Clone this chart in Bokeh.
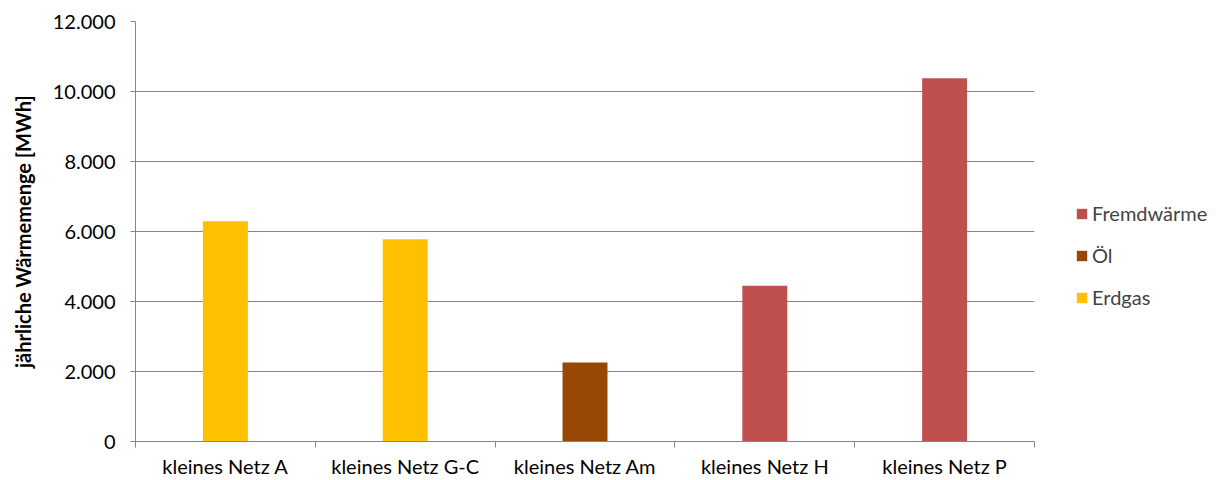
from bokeh.plotting import figure
from bokeh.layouts import row
from bokeh.models import (Range1d, LinearAxis, FixedTicker, Legend, LegendItem, ColumnDataSource)
from bokeh.embed import file_html
from bokeh.resources import INLINE

categories = ["kleines Netz A", "kleines Netz G-C", "kleines Netz Am", "kleines Netz H", "kleines Netz P"]
erdgas = [6290, 5780, 0, 0, 0]
oel = [0, 0, 2260, 0, 0]
fremdwaerme = [0, 0, 0, 4450, 10380]
series_names = ["Erdgas", "Öl", "Fremdwärme"]
series_colors = ["#FFC000", "#974706", "#C0504D"]
y_ticks = [0, 2000, 4000, 6000, 8000, 10000, 12000]
y_tick_labels = ["0", "2.000", "4.000", "6.000", "8.000", "10.000", "12.000"]
y_title = "jährliche Wärmemenge [MWh]"

FONT = "Lato"
GRID = "#868686"

n = len(categories)
xpos = [i + 1 for i in range(n)]
source = ColumnDataSource({"x": xpos, "Erdgas": erdgas, "Öl": oel, "Fremdwärme": fremdwaerme})

p = figure(x_range=Range1d(0.5, n + 0.5), y_range=Range1d(0, 12000),
           width=1040, height=480, output_backend="svg", toolbar_location=None,
           x_axis_location=None, y_axis_location="left",
           min_border_left=135, min_border_top=21, min_border_right=6, min_border_bottom=38)
p.outline_line_color = None
p.background_fill_color = "white"
p.border_fill_color = "white"

p.vbar_stack(series_names, x="x", width=0.25, source=source,
             color=series_colors, line_color=None)

# y axis
yax = p.yaxis[0]
yax.ticker = FixedTicker(ticks=y_ticks)
yax.major_label_overrides = {t: l for t, l in zip(y_ticks, y_tick_labels)}
yax.minor_tick_line_color = None
yax.major_tick_in = 0
yax.major_tick_out = 5
yax.major_tick_line_color = GRID
yax.axis_line_color = GRID
yax.major_label_text_font = FONT
yax.major_label_text_font_size = "20px"
yax.major_label_text_color = "black"
yax.major_label_standoff = 15
yax.axis_label = y_title
yax.axis_label_text_font = FONT
yax.axis_label_text_font_size = "20px"
yax.axis_label_text_font_style = "bold"
yax.axis_label_text_color = "black"
yax.axis_label_standoff = 15

p.ygrid.grid_line_color = GRID
p.ygrid.ticker = FixedTicker(ticks=y_ticks)
p.xgrid.grid_line_color = None

# x axis: labels at category centers, tick marks at category boundaries
xax = LinearAxis(ticker=FixedTicker(ticks=xpos, minor_ticks=[x - 0.5 for x in xpos] + [n + 0.5]),
                 major_label_overrides={x: c for x, c in zip(xpos, categories)},
                 axis_line_color=GRID, major_tick_line_color=None,
                 major_tick_in=0, major_tick_out=0,
                 minor_tick_line_color=GRID, minor_tick_in=0, minor_tick_out=6,
                 major_label_text_font=FONT, major_label_text_font_size="20px",
                 major_label_text_color="black", major_label_standoff=6)
p.add_layout(xax, "below")

# legend panel (separate figure to the right of the plot area)
lg = figure(x_range=Range1d(-10, -9), y_range=Range1d(-2, -1), width=176, height=480,
            output_backend="svg", toolbar_location=None,
            x_axis_location=None, y_axis_location=None,
            min_border=0)
lg.outline_line_color = None
lg.grid.grid_line_color = None
lg_renderers = lg.vbar_stack(series_names, x="x", width=0.25, source=source,
                             color=series_colors, line_color=None)
legend = Legend(items=[LegendItem(label=nm, renderers=[r]) for nm, r in
                       zip(reversed(series_names), reversed(lg_renderers))],
                location=(35, 132), margin=0, padding=0, border_line_color=None,
                background_fill_alpha=0, label_text_font=FONT, label_text_font_size="20px",
                glyph_width=13, glyph_height=13, label_height=20, spacing=18,
                label_standoff=4)
lg.add_layout(legend, "center")

layout = row(p, lg)
open("out.html", "w").write(file_html(layout, INLINE))
